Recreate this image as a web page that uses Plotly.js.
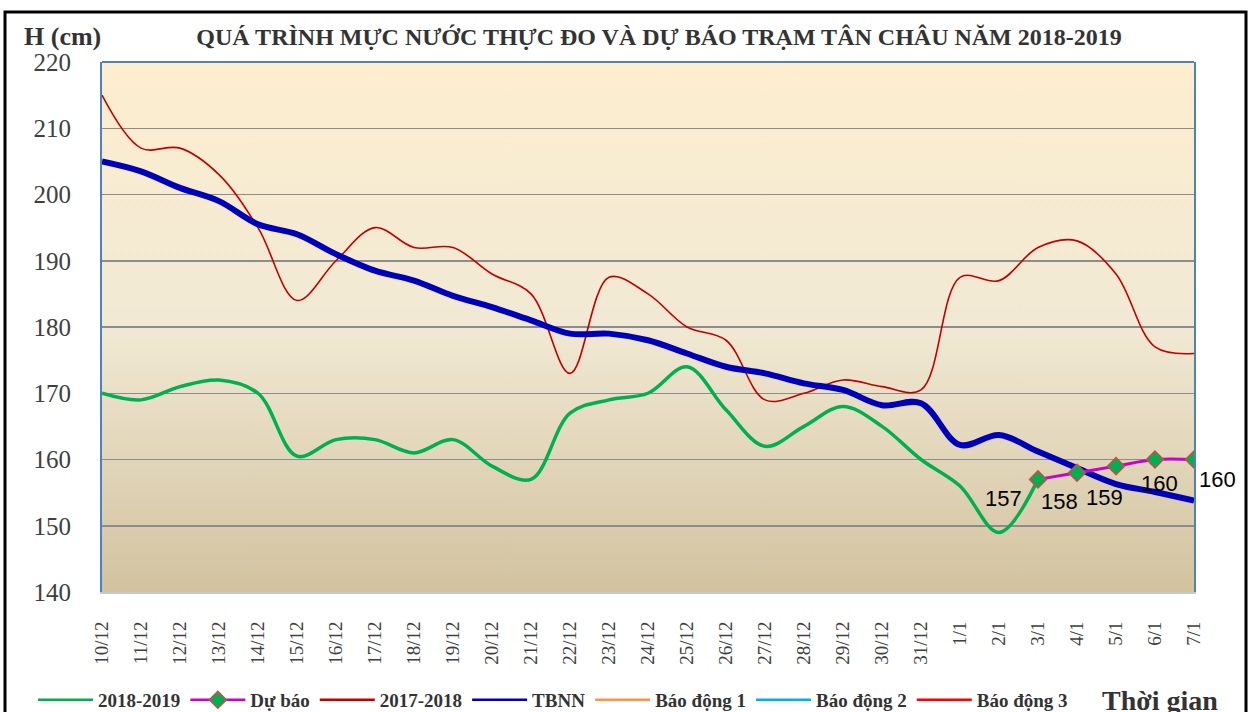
<!DOCTYPE html>
<html>
<head>
<meta charset="utf-8">
<script src="https://cdn.plot.ly/plotly-3.0.1.min.js"></script>
<style>
html,body{margin:0;padding:0;background:#fff;}
#chart{width:1251px;height:712px;}
</style>
</head>
<body>
<div id="chart"></div>
<script>
// ---------------- DATA ----------------
const categories = ['10/12','11/12','12/12','13/12','14/12','15/12','16/12','17/12','18/12','19/12',
  '20/12','21/12','22/12','23/12','24/12','25/12','26/12','27/12','28/12','29/12','30/12','31/12',
  '1/1','2/1','3/1','4/1','5/1','6/1','7/1'];

// 2018-2019 observed (10/12 .. 3/1)
const obs20182019 = [170,169,171,172,170,160.5,163,163,161,163,159,157,167,169,170,174,167.5,162,165,168,165,160,156,149,157];

// Forecast (3/1 .. 7/1)
const forecastDates = ['3/1','4/1','5/1','6/1','7/1'];
const forecastValues = [157,158,159,160,160];

// 2017-2018
const obs20172018 = [215,207,207,203,195,184,190,195,192,192,188,185,173,187.5,185,180,178,169,170,172,171,170.5,187.5,187,192,193,188,177,176];

// TBNN (multi-year average)
const tbnn = [205,203.5,201,199,195.5,194,191,188.5,187,184.7,183,181,179,179,178,176,174,173,171.5,170.5,168.2,168.5,162.2,163.7,161.2,158.7,156.3,155.1,153.8];

// Alarm levels (cm) – above the displayed range
const alarm1 = 350, alarm2 = 400, alarm3 = 450;

const yTicks = [140,150,160,170,180,190,200,210,220];

const seriesNames = ['2018-2019','Dự báo','2017-2018','TBNN','Báo động 1','Báo động 2','Báo động 3'];

// ---------------- STYLE ----------------
const serif = 'Liberation Serif, Times New Roman, serif';
const W = 1251, H = 712;
const M = {l:102, r:57, t:62, b:120};
const PW = W - M.l - M.r, PH = H - M.t - M.b;
const px2x = p => (p - M.l) / PW;
const px2y = p => (H - M.b - p) / PH;

const colors = ['#00B050','#CC00CC','#C00000','#0000BB','#F79646','#00B0F0','#FF0000'];
const diamond = {symbol:'diamond', size:13, color:'#00B050', line:{color:'#C0504D', width:1.5}};

// label offsets (pixels) for forecast value labels
const labelShiftX = [-35,-18,-12,4,23];
const labelShiftY = [-19,-29,-31,-24,-20];

const first = categories[0], last = categories[categories.length-1];

const traces = [
  {name:seriesNames[0], x:categories.slice(0, obs20182019.length), y:obs20182019, type:'scatter', mode:'lines',
   line:{color:colors[0], width:3.5, shape:'spline', smoothing:1}, showlegend:false},
  {name:seriesNames[2], x:categories, y:obs20172018, type:'scatter', mode:'lines',
   line:{color:colors[2], width:1.6, shape:'spline', smoothing:1}, showlegend:false},
  {name:seriesNames[3], x:categories, y:tbnn, type:'scatter', mode:'lines',
   line:{color:colors[3], width:6, shape:'spline', smoothing:1}, showlegend:false},
  {name:seriesNames[1], x:forecastDates, y:forecastValues, type:'scatter', mode:'lines+markers',
   line:{color:colors[1], width:3, shape:'spline', smoothing:1}, marker:diamond, showlegend:false},
  {name:seriesNames[4], x:[first,last], y:[alarm1,alarm1], type:'scatter', mode:'lines',
   line:{color:colors[4], width:2}, showlegend:false},
  {name:seriesNames[5], x:[first,last], y:[alarm2,alarm2], type:'scatter', mode:'lines',
   line:{color:colors[5], width:2}, showlegend:false},
  {name:seriesNames[6], x:[first,last], y:[alarm3,alarm3], type:'scatter', mode:'lines',
   line:{color:colors[6], width:2}, showlegend:false}
];
// legend entries (thin lines as in the original legend)
seriesNames.forEach((n,i) => {
  const t = {name:n, x:[first], y:[null], type:'scatter', mode:'lines',
    line:{color:colors[i], width:2.5}, showlegend:true, hoverinfo:'skip'};
  if (i === 1) { t.mode = 'lines+markers'; t.marker = diamond; }
  traces.push(t);
});

const gradSvg = "<svg xmlns='http://www.w3.org/2000/svg' width='10' height='100' preserveAspectRatio='none'>" +
  "<defs><linearGradient id='g' x1='0' y1='0' x2='0' y2='1'>" +
  "<stop offset='0' stop-color='#FDEECF'/><stop offset='0.5' stop-color='#F1E9D4'/><stop offset='1' stop-color='#D2C29F'/>" +
  "</linearGradient></defs><rect width='10' height='100' fill='url(#g)'/></svg>";

const annotations = forecastValues.map((v,i) => ({
  x: forecastDates[i], y: v, xref:'x', yref:'y', text: String(v), showarrow:false,
  xshift: labelShiftX[i], yshift: labelShiftY[i],
  font:{family:'Liberation Sans, Arial, sans-serif', size:22, color:'#000'}
}));
annotations.push({xref:'paper', yref:'paper', x:px2x(62), y:px2y(37), text:'H (cm)', showarrow:false,
  xanchor:'center', yanchor:'middle', font:{family:serif, size:26, color:'#333', weight:'bold'}});
annotations.push({xref:'paper', yref:'paper', x:px2x(1160), y:px2y(700), text:'Thời gian', showarrow:false,
  xanchor:'center', yanchor:'middle', font:{family:serif, size:28, color:'#333', weight:'bold'}});

const layout = {
  width:W, height:H,
  margin:M,
  paper_bgcolor:'#ffffff',
  plot_bgcolor:'rgba(0,0,0,0)',
  showlegend:true,
  title:{text:'QUÁ TRÌNH MỰC NƯỚC THỰC ĐO VÀ DỰ BÁO TRẠM TÂN CHÂU NĂM 2018-2019',
    xref:'container', yref:'container', x:659/W, y:1-37/H, xanchor:'center', yanchor:'middle',
    font:{family:serif, size:24, color:'#333', weight:'bold'}},
  xaxis:{type:'category', categoryorder:'array', categoryarray:categories, range:[0, categories.length-1],
    showgrid:false, zeroline:false, showline:true, linecolor:'#C3C9D3', linewidth:2,
    tickangle:-90, ticks:'', ticklabelstandoff:20,
    tickfont:{family:serif, size:19, color:'#404040'}, fixedrange:true},
  yaxis:{range:[140,220], tickvals:yTicks, ticktext:yTicks.map(String),
    showgrid:true, gridcolor:'#8C8C8C', gridwidth:1.5, zeroline:false,
    showline:true, linecolor:'#4F81BD', linewidth:2, mirror:true, ticks:'', ticklabelstandoff:24,
    tickfont:{family:serif, size:25, color:'#404040'}, fixedrange:true},
  legend:{orientation:'h', xref:'container', yref:'container', x:33/W, y:1-700/H, xanchor:'left', yanchor:'middle',
    itemwidth:55, font:{family:serif, size:19, color:'#333', weight:'bold'}, bgcolor:'rgba(0,0,0,0)', tracegroupgap:0},
  images:[{source:'data:image/svg+xml;base64,' + btoa(gradSvg), xref:'paper', yref:'paper',
    x:0, y:1, sizex:1, sizey:1, sizing:'stretch', layer:'below', xanchor:'left', yanchor:'top'}],
  shapes:[
    {type:'line', xref:'paper', yref:'paper', x0:0, x1:1, y0:1, y1:1, line:{color:'#4F81BD', width:2}},
    {type:'rect', xref:'paper', yref:'paper', x0:px2x(5), x1:px2x(1246), y0:px2y(720), y1:px2y(12),
     line:{color:'#000', width:3}, fillcolor:'rgba(0,0,0,0)'}
  ],
  annotations:annotations
};

Plotly.newPlot('chart', traces, layout, {displayModeBar:false, staticPlot:true});
</script>
</body>
</html>
